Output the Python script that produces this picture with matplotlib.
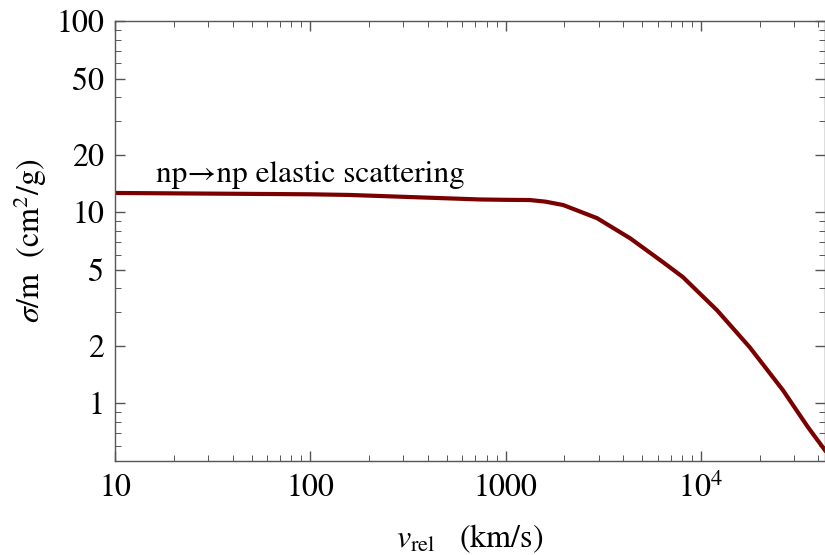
import numpy as np
import matplotlib.pyplot as plt
from matplotlib.ticker import FixedLocator, FixedFormatter, LogLocator, NullFormatter

plt.rcParams['font.family'] = ['STIXGeneral', 'Liberation Serif', 'DejaVu Serif']
plt.rcParams['mathtext.fontset'] = 'stix'

# values
v_rel = [10, 100, 160, 740, 1000, 1330, 1600, 1970, 2940, 4340, 6400, 8090,
         12080, 17800, 26300, 35300, 43200]
sigma_m = [12.6, 12.4, 12.3, 11.65, 11.6, 11.57, 11.35, 10.9, 9.3, 7.3, 5.47, 4.57,
           3.07, 1.96, 1.17, 0.75, 0.567]

x_ticks = [10, 100, 1000, 10000]
x_ticklabels = ['10', '100', '1000', '$10^4$']
y_ticks = [1, 2, 5, 10, 20, 50, 100]
y_ticklabels = ['1', '2', '5', '10', '20', '50', '100']

fig = plt.figure(figsize=(8.25, 5.55), dpi=100)
ax = fig.add_axes([0.1394, 0.169, 0.8606, 0.793])

ax.plot(v_rel, sigma_m, color='#7a0000', lw=3.0, solid_joinstyle='round')

ax.set_xscale('log')
ax.set_yscale('log')
ax.set_xlim(10, 43200)
ax.set_ylim(0.497, 100)

ax.xaxis.set_major_locator(FixedLocator(x_ticks))
ax.xaxis.set_major_formatter(FixedFormatter(x_ticklabels))
ax.xaxis.set_minor_locator(LogLocator(base=10, subs=np.arange(2, 10)))
ax.xaxis.set_minor_formatter(NullFormatter())
ax.yaxis.set_major_locator(FixedLocator(y_ticks))
ax.yaxis.set_major_formatter(FixedFormatter(y_ticklabels))
ax.yaxis.set_minor_locator(LogLocator(base=10, subs=np.arange(2, 10)))
ax.yaxis.set_minor_formatter(NullFormatter())

for s in ax.spines.values():
    s.set_color('#555555')
    s.set_linewidth(1.0)
ax.tick_params(which='both', direction='in', top=True, right=True, colors='#555555',
               labelcolor='black', labelsize=23)
ax.tick_params(which='major', length=7, width=1.0)
ax.tick_params(which='minor', length=4, width=0.7)
ax.tick_params(axis='x', pad=9)
ax.tick_params(axis='y', pad=8)

ax.set_xlabel(r'$v_{\rm rel}$   (km/s)', fontsize=23, labelpad=13)
ax.set_ylabel(r'$\sigma$/m  (cm$^2$/g)', fontsize=23, labelpad=5)

ax.text(16.2, 15.6, 'np\u2192np elastic scattering', fontsize=22.5, ha='left', va='center')

fig.savefig('out.png', dpi=100)
